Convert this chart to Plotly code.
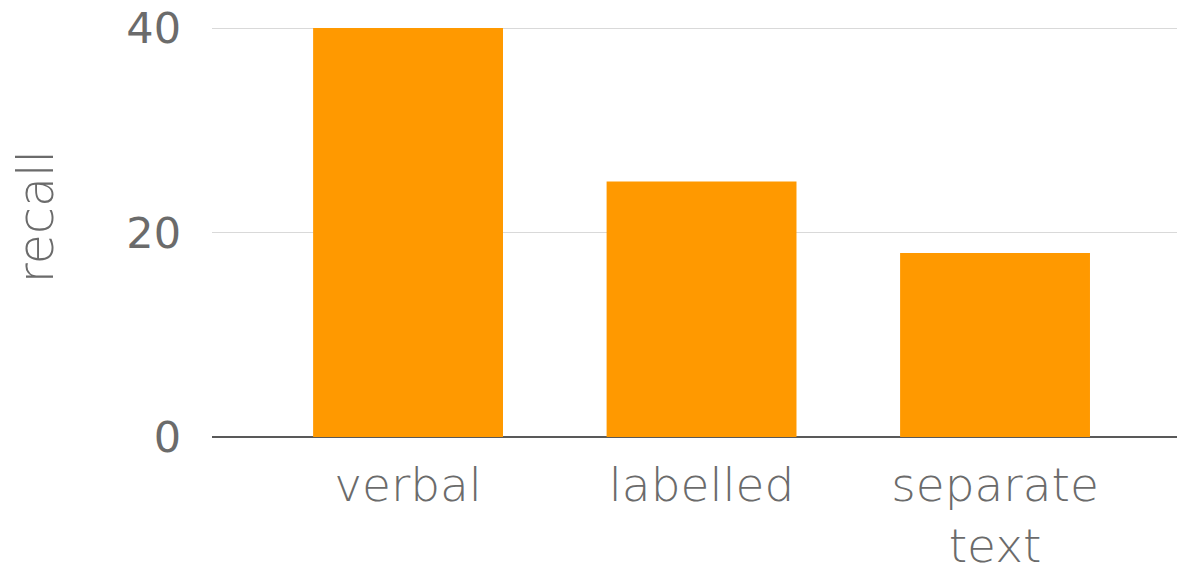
import plotly.graph_objects as go

# Recall scores by presentation format
categories = ["verbal", "labelled", "separate<br>text"]
recall = [40, 25, 18]
y_ticks = [0, 20, 40]

TEXT_GRAY = "#6b6b6b"
BAR_ORANGE = "#ff9900"

fig = go.Figure(
    go.Bar(
        x=categories,
        y=recall,
        marker=dict(color=BAR_ORANGE, line=dict(width=0)),
        hoverinfo="x+y",
    )
)

fig.update_layout(
    width=1177,
    height=566,
    margin=dict(l=212, r=0, t=24, b=129),
    paper_bgcolor="white",
    plot_bgcolor="white",
    bargap=0.353,
    showlegend=False,
    font=dict(family="DejaVu Sans", color=TEXT_GRAY),
    annotations=[
        dict(
            text="recall",
            xref="paper",
            yref="paper",
            x=-0.181,
            y=0.533,
            xanchor="center",
            yanchor="middle",
            textangle=-90,
            showarrow=False,
            font=dict(size=49, family="DejaVu Sans", weight=300, color=TEXT_GRAY),
        )
    ],
)

fig.update_xaxes(
    range=[-0.668, 2.62],
    showgrid=False,
    showline=False,
    ticks="",
    tickfont=dict(size=47, family="DejaVu Sans", weight=300, color=TEXT_GRAY),
    ticklabelstandoff=16,
    automargin=False,
)

fig.update_yaxes(
    range=[0, 40.4],
    tickvals=y_ticks,
    ticktext=[str(v) for v in y_ticks],
    showgrid=True,
    gridcolor="#d9d9d9",
    gridwidth=1,
    zeroline=True,
    zerolinecolor="#595959",
    zerolinewidth=2,
    showline=False,
    ticks="",
    tickfont=dict(size=43, family="DejaVu Sans", weight=500, color=TEXT_GRAY),
    ticklabelstandoff=30,
    automargin=False,
)

fig.write_html("out.html")
